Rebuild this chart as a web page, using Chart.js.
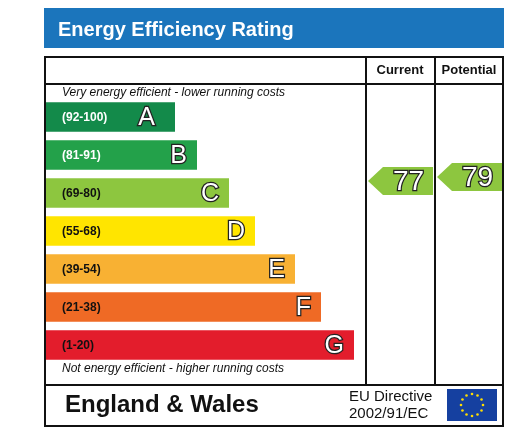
<!DOCTYPE html>
<html>
<head>
<meta charset="utf-8">
<script src="https://cdn.jsdelivr.net/npm/chart.js@4"></script>
<style>
  html, body { margin: 0; padding: 0; background: #fff; }
  #wrap { width: 529px; height: 437px; position: relative; }
</style>
</head>
<body>
<div id="wrap"><canvas id="epc" width="529" height="437"></canvas></div>
<script>
// bands, top to bottom
const bands = ['A', 'B', 'C', 'D', 'E', 'F', 'G'];
const ranges = ['(92-100)', '(81-91)', '(69-80)', '(55-68)', '(39-54)', '(21-38)', '(1-20)'];
// bar length (units of the x axis, 0-321)
const lengths = [130, 152, 184, 210, 250, 276, 309];
const colors = ['#138a4a', '#23a14a', '#8dc63f', '#ffe500', '#f8b133', '#ef6a25', '#e31d2c'];
const current = 77;
const potential = 79;

// which band a rating sits in
function bandOf(v) {
    const lows = [92, 81, 69, 55, 39, 21, 1];
    return lows.findIndex(l => v >= l);
}

const frame = {
    id: 'frame',
    afterDraw(chart) {
        const c = chart.ctx;
        const y = chart.scales.y;
        c.save();
        // header
        c.fillStyle = '#1b75bc';
        c.fillRect(44, 8, 460, 40);
        c.fillStyle = '#fff';
        c.font = 'bold 20px "Liberation Sans", Arial';
        c.textBaseline = 'middle';
        c.fillText('Energy Efficiency Rating', 58, 30);

        // box lines
        c.strokeStyle = '#111';
        c.lineWidth = 2;
        c.strokeRect(45, 57, 458, 369);
        c.beginPath();
        c.moveTo(45, 84); c.lineTo(503, 84);
        c.moveTo(45, 385); c.lineTo(503, 385);
        c.moveTo(366, 57); c.lineTo(366, 385);
        c.moveTo(435, 57); c.lineTo(435, 385);
        c.stroke();

        c.fillStyle = '#111';
        c.font = 'bold 13px "Liberation Sans", Arial';
        c.textAlign = 'center';
        c.fillText('Current', 400, 70);
        c.fillText('Potential', 469, 70);
        c.textAlign = 'left';
        c.font = 'italic 12px "Liberation Sans", Arial';
        c.fillText('Very energy efficient - lower running costs', 62, 93);
        c.fillText('Not energy efficient - higher running costs', 62, 369);

        // band labels
        const x = chart.scales.x;
        bands.forEach((b, i) => {
            const cy = y.getPixelForValue(i);
            c.fillStyle = i < 2 ? '#fff' : '#111';
            c.font = 'bold 12px "Liberation Sans", Arial';
            c.textAlign = 'left';
            c.fillText(ranges[i], 62, cy + 1);
            c.font = '25px "Liberation Sans", Arial';
            c.textAlign = 'right';
            c.lineWidth = 2.5;
            c.strokeStyle = '#222';
            const ex = x.getPixelForValue(lengths[i]) - (i === 0 ? 20 : 10);
            c.strokeText(b, ex, cy + 1);
            c.fillStyle = '#fff';
            c.fillText(b, ex, cy + 1);
        });

        // rating arrows
        function arrow(v, x0, x1, off) {
            const i = bandOf(v);
            const cy = y.getPixelForValue(i) + off;
            c.fillStyle = colors[i];
            c.beginPath();
            c.moveTo(x0, cy);
            c.lineTo(x0 + 15, cy - 14);
            c.lineTo(x1, cy - 14);
            c.lineTo(x1, cy + 14);
            c.lineTo(x0 + 15, cy + 14);
            c.closePath();
            c.fill();
            c.font = '28px "Liberation Sans", Arial';
            c.textAlign = 'center';
            c.lineWidth = 2.5;
            c.strokeStyle = '#222';
            c.strokeText(String(v), (x0 + x1) / 2 + 8, cy + 1);
            c.fillStyle = '#fff';
            c.fillText(String(v), (x0 + x1) / 2 + 8, cy + 1);
        }
        arrow(current, 368, 433, -12);
        arrow(potential, 437, 502, -16);

        // footer
        c.fillStyle = '#111';
        c.textAlign = 'left';
        c.font = 'bold 24px "Liberation Sans", Arial';
        c.fillText('England & Wales', 65, 405);
        c.font = '15px "Liberation Sans", Arial';
        c.fillText('EU Directive', 349, 397);
        c.fillText('2002/91/EC', 349, 414);
        c.fillStyle = '#1540a0';
        c.fillRect(447, 389, 50, 32);
        c.fillStyle = '#ffdd00';
        for (let k = 0; k < 12; k++) {
            const a = k * Math.PI / 6;
            c.beginPath();
            c.arc(472 + 11 * Math.cos(a), 405 + 11 * Math.sin(a), 1.3, 0, Math.PI * 2);
            c.fill();
        }
        c.restore();
    }
};

new Chart(document.getElementById('epc'), {
    type: 'bar',
    data: {
        labels: bands,
        datasets: [{
            data: lengths,
            backgroundColor: colors,
            borderWidth: 0,
            barPercentage: 0.77,
            categoryPercentage: 1
        }]
    },
    options: {
        indexAxis: 'y',
        responsive: false,
        animation: false,
        layout: { padding: { left: 45, right: 163, top: 98, bottom: 73 } },
        plugins: { legend: { display: false }, tooltip: { enabled: false } },
        scales: {
            x: { display: false, min: 0, max: 321 },
            y: { display: false }
        }
    },
    plugins: [frame]
});
</script>
</body>
</html>
